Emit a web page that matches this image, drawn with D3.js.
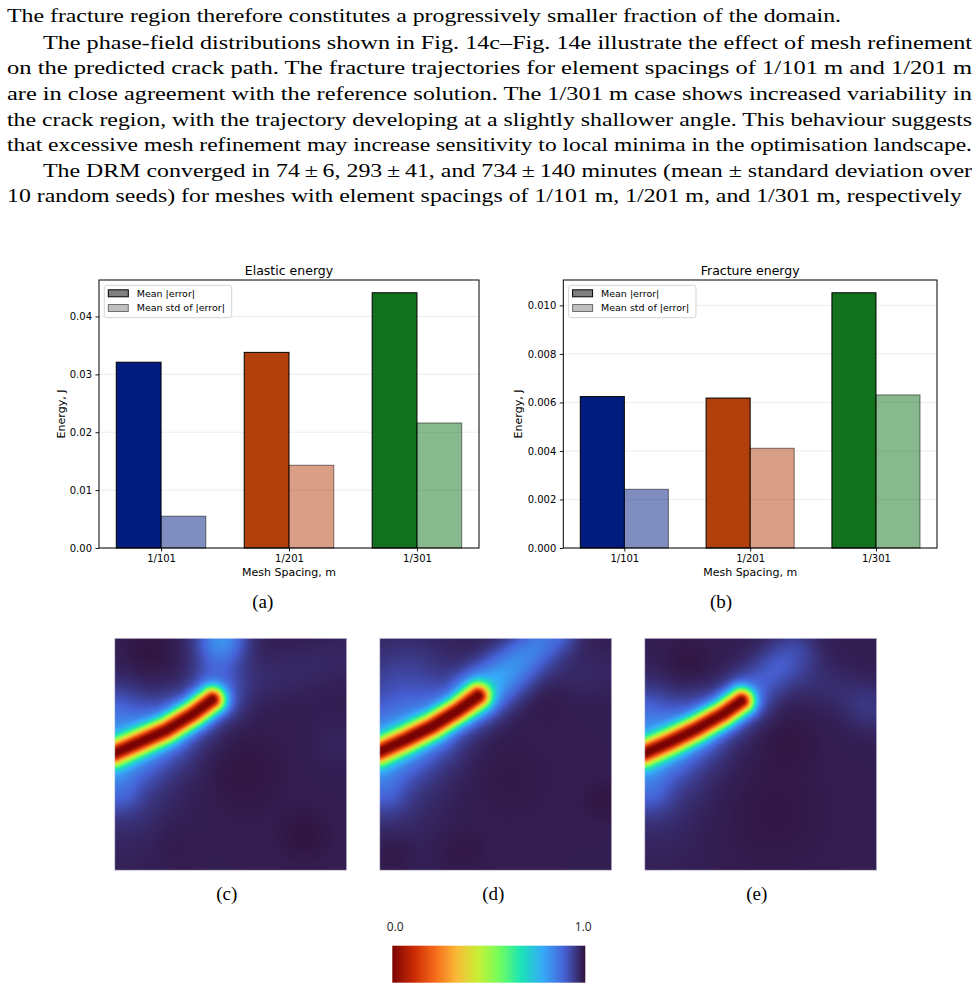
<!DOCTYPE html>
<html><head><meta charset="utf-8">
<script src="https://cdn.jsdelivr.net/npm/d3@7"></script>
<style>body{margin:0;background:#fff}svg{display:block}</style>
</head><body>
<script>
// ---------------- DATA ----------------
const paragraphLines = [
  "The fracture region therefore constitutes a progressively smaller fraction of the domain.",
  "The phase-field distributions shown in Fig. 14c\u2013Fig. 14e illustrate the effect of mesh refinement",
  "on the predicted crack path. The fracture trajectories for element spacings of 1/101 m and 1/201 m",
  "are in close agreement with the reference solution. The 1/301 m case shows increased variability in",
  "the crack region, with the trajectory developing at a slightly shallower angle. This behaviour suggests",
  "that excessive mesh refinement may increase sensitivity to local minima in the optimisation landscape.",
  "The DRM converged in 74\u2009\u00b1\u20096, 293\u2009\u00b1\u200941, and 734\u2009\u00b1\u2009140 minutes (mean \u00b1 standard deviation over",
  "10 random seeds) for meshes with element spacings of 1/101 m, 1/201 m, and 1/301 m, respectively"
];
const paragraphIndent = [false, true, false, false, false, false, true, false];

const categories = ["1/101", "1/201", "1/301"];
const seriesNames = ["Mean |error|", "Mean std of |error|"];
const elasticMean = [0.0321, 0.0338, 0.0441];
const elasticStd = [0.0055, 0.0143, 0.0216];
const fractureMean = [0.00624, 0.00618, 0.01052];
const fractureStd = [0.00242, 0.00411, 0.00631];
const elasticTicks = [0, 0.01, 0.02, 0.03, 0.04];
const fractureTicks = [0, 0.002, 0.004, 0.006, 0.008, 0.010];
const subLabels = ["(a)", "(b)", "(c)", "(d)", "(e)"];

// crack centre lines (normalised domain coords, x right, y down)
const crackC = [[0, 0.495], [0.109, 0.447], [0.224, 0.395], [0.339, 0.325], [0.42, 0.265]];
const crackD = [[0, 0.488], [0.109, 0.438], [0.224, 0.381], [0.339, 0.310], [0.423, 0.249]];
const crackE = [[0, 0.495], [0.109, 0.447], [0.224, 0.390], [0.339, 0.325], [0.417, 0.27]];
// diffuse bands [x0,y0,x1,y1,amplitude,width]
const bandsC = [[0.43, 0.25, 0.46, -0.02, 0.08, 0.11], [0.45, 0.22, 1.0, 0.08, 0.02, 0.1]];
const bandsD = [[0.43, 0.24, 0.74, -0.02, 0.2, 0.1], [0.45, 0.22, 1.0, 0.14, 0.02, 0.1]];
const bandsE = [[0.43, 0.26, 0.64, 0.06, 0.09, 0.1], [0.6, 0.12, 1.0, 0.30, 0.025, 0.1]];
// background blobs [x,y,radius,amplitude]
const blobsC = [[0.15, 0.07, 0.1, -0.012], [0.55, 0.58, 0.18, -0.01], [0.82, 0.85, 0.1, -0.012], [0.25, 0.9, 0.1, -0.006], [0.0, 0.3, 0.1, 0.04], [0.46, 0.0, 0.1, 0.12], [0.02, 0.68, 0.08, 0.03], [0.95, 0.45, 0.1, 0.008]];
const blobsD = [[0.72, 0.24, 0.1, -0.012], [0.06, 0.92, 0.09, -0.012], [0.35, 0.92, 0.1, -0.008], [0.97, 0.7, 0.08, -0.01], [0.12, 0.2, 0.2, 0.05], [0.55, 0.6, 0.2, -0.006], [0.02, 0.68, 0.08, 0.03]];
const blobsE = [[0.18, 0.12, 0.1, -0.012], [0.62, 0.44, 0.12, -0.008], [0.55, 0.75, 0.25, -0.008], [0.97, 0.3, 0.1, 0.02], [0.0, 0.3, 0.1, 0.04], [0.02, 0.68, 0.08, 0.03]];

const colorbarLabels = ["0.0", "1.0"];
const turboStops = ["#30123b", "#4662d7", "#36aaf9", "#1ae4b6", "#72fe5e", "#c8ef34", "#faba39", "#f66b19", "#cb2a04", "#7a0403"];
const barColors = ["#001c7f", "#b1400d", "#12711c"];

// ---------------- SETUP ----------------
const W = 977, H = 989;
const svg = d3.select("body").append("svg").attr("width", W).attr("height", H)
  .attr("viewBox", `0 0 ${W} ${H}`);
svg.append("rect").attr("width", W).attr("height", H).attr("fill", "#fff");

const SERIF = "'Liberation Serif', 'Times New Roman', serif";
const SANS = "'DejaVu Sans', sans-serif";

// ---------------- PARAGRAPH ----------------
const lineBase = [21.5, 48.8, 74.4, 100, 125.6, 151.2, 176.8, 202.4];
const lineEnd = [841, 972, 972, 972, 972, 972, 972, 962];
paragraphLines.forEach((s, i) => {
  const x0 = paragraphIndent[i] ? 43 : 7;
  svg.append("text").attr("x", x0).attr("y", lineBase[i])
    .attr("font-family", SERIF).attr("font-size", 19.5).attr("fill", "#000")
    .attr("textLength", lineEnd[i] - x0).attr("lengthAdjust", "spacingAndGlyphs")
    .style("white-space", "pre").text(s);
});

// ---------------- BAR CHARTS ----------------
function barChart(o) {
  const g = svg.append("g");
  const x = d3.scaleLinear().domain([-0.485, 2.485]).range([o.left, o.right]);
  const yMax = d3.max(o.means.concat(o.stds)) * 1.05;
  const y = d3.scaleLinear().domain([0, yMax]).range([o.bottom, o.top]);
  const bw = 0.35;

  g.selectAll("line.grid").data(o.ticks).join("line")
    .attr("x1", o.left).attr("x2", o.right)
    .attr("y1", d => y(d)).attr("y2", d => y(d))
    .attr("stroke", "#b0b0b0").attr("stroke-opacity", 0.3).attr("stroke-width", 0.8);

  g.selectAll("rect.mean").data(o.means).join("rect")
    .attr("x", (d, i) => x(i - bw)).attr("width", (d, i) => x(i) - x(i - bw))
    .attr("y", d => y(d)).attr("height", d => y(0) - y(d))
    .attr("fill", (d, i) => barColors[i]).attr("stroke", "#000").attr("stroke-width", 1);
  g.selectAll("rect.std").data(o.stds).join("rect")
    .attr("x", (d, i) => x(i)).attr("width", (d, i) => x(i + bw) - x(i))
    .attr("y", d => y(d)).attr("height", d => y(0) - y(d))
    .attr("fill", (d, i) => barColors[i]).attr("fill-opacity", 0.5)
    .attr("stroke", "#000").attr("stroke-opacity", 0.5).attr("stroke-width", 1);

  const ya = g.append("g").attr("transform", `translate(${o.left},0)`)
    .call(d3.axisLeft(y).tickValues(o.ticks).tickFormat(d3.format(o.fmt)).tickSize(3.5).tickPadding(3.5));
  const xa = g.append("g").attr("transform", `translate(0,${o.bottom})`)
    .call(d3.axisBottom(x).tickValues([0, 1, 2]).tickFormat(i => categories[i]).tickSize(3.5).tickPadding(3.5));
  [ya, xa].forEach(a => {
    a.select(".domain").remove();
    a.selectAll("text").attr("font-family", SANS).attr("font-size", 10).attr("fill", "#000");
    a.selectAll("line").attr("stroke", "#000").attr("stroke-width", 0.9);
  });

  g.append("rect").attr("x", o.left).attr("y", o.top)
    .attr("width", o.right - o.left).attr("height", o.bottom - o.top)
    .attr("fill", "none").attr("stroke", "#000").attr("stroke-width", 1);

  g.append("text").attr("x", (o.left + o.right) / 2).attr("y", o.top - 5)
    .attr("text-anchor", "middle").attr("font-family", SANS).attr("font-size", 12.5)
    .text(o.title);
  g.append("text").attr("x", (o.left + o.right) / 2).attr("y", o.bottom + 28)
    .attr("text-anchor", "middle").attr("font-family", SANS).attr("font-size", 11)
    .text("Mesh Spacing, m");
  g.append("text").attr("transform", `translate(${o.ylabelX},${(o.top + o.bottom) / 2}) rotate(-90)`)
    .attr("text-anchor", "middle").attr("dy", "0.35em").attr("font-family", SANS).attr("font-size", 11)
    .text("Energy, J");

  // legend
  const lg = g.append("g").attr("transform", `translate(${o.left + 5.3},${o.top + 5.3})`);
  lg.append("rect").attr("width", 127.4).attr("height", 32.4).attr("rx", 2.5)
    .attr("fill", "#fff").attr("fill-opacity", 0.8).attr("stroke", "#d0d0d0").attr("stroke-width", 0.9);
  seriesNames.forEach((nm, i) => {
    const cy = 8 + i * 14.7;
    lg.append("rect").attr("x", 4).attr("y", cy - 3.5).attr("width", 20).attr("height", 7)
      .attr("fill", "#808080").attr("fill-opacity", i ? 0.5 : 1)
      .attr("stroke", "#000").attr("stroke-opacity", i ? 0.5 : 1).attr("stroke-width", 1);
    lg.append("text").attr("x", 32.4).attr("y", cy).attr("dy", "0.35em")
      .attr("font-family", SANS).attr("font-size", 9.5).text(nm);
  });
}

barChart({ left: 99, right: 479, top: 280, bottom: 548, means: elasticMean, stds: elasticStd,
  ticks: elasticTicks, fmt: ".2f", title: "Elastic energy", ylabelX: 61 });
barChart({ left: 563.3, right: 937, top: 280, bottom: 548, means: fractureMean, stds: fractureStd,
  ticks: fractureTicks, fmt: ".3f", title: "Fracture energy", ylabelX: 518 });

svg.append("text").attr("x", 262.7).attr("y", 607.5).attr("text-anchor", "middle")
  .attr("font-family", SERIF).attr("font-size", 19).text(subLabels[0]);
svg.append("text").attr("x", 721).attr("y", 607.5).attr("text-anchor", "middle")
  .attr("font-family", SERIF).attr("font-size", 19).text(subLabels[1]);

// ---------------- PHASE FIELD PANELS ----------------
const turbo = d3.piecewise(d3.interpolateRgb, turboStops);
const phaseColor = d3.scaleSequential(t => turbo(1 - t)).domain([0, 1]);

function segDist(px, py, ax, ay, bx, by) {
  const vx = bx - ax, vy = by - ay;
  const L2 = vx * vx + vy * vy;
  let t = L2 > 0 ? ((px - ax) * vx + (py - ay) * vy) / L2 : 0;
  t = Math.max(0, Math.min(1, t));
  const dx = px - (ax + t * vx), dy = py - (ay + t * vy);
  return { d: Math.sqrt(dx * dx + dy * dy), t: t, L: Math.sqrt(L2) };
}

function phaseField(px, py, crack, bands, blobs) {
  let best = 1e9, bestS = 0, cum = 0, total = 0;
  for (let i = 1; i < crack.length; i++) total += Math.hypot(crack[i][0] - crack[i - 1][0], crack[i][1] - crack[i - 1][1]);
  for (let i = 1; i < crack.length; i++) {
    const r = segDist(px, py, crack[i - 1][0], crack[i - 1][1], crack[i][0], crack[i][1]);
    if (r.d < best) { best = r.d; bestS = (cum + r.t * r.L) / total; }
    cum += r.L;
  }
  const d = best;
  const core = Math.exp(-Math.pow(d / 0.048, 2));
  const hl = 0.035 + 0.075 * (1 - bestS);
  const halo = 0.4 * Math.exp(-d / hl);
  let rest = (1 - core) * (1 - halo);
  for (const b of bands) {
    const r = segDist(px, py, b[0], b[1], b[2], b[3]);
    const v = b[4] * (1 - 0.4 * r.t) * Math.exp(-Math.pow(r.d / b[5], 2));
    rest *= (1 - v);
  }
  let D = 1 - rest + 0.016;
  for (const bl of blobs) {
    const dd = (px - bl[0]) ** 2 + (py - bl[1]) ** 2;
    D += bl[3] * Math.exp(-dd / (bl[2] * bl[2]));
  }
  D = Math.max(0, Math.min(1, D));
  return 1 - D;
}

const panels = [
  { x: 114.7, crack: crackC, bands: bandsC, blobs: blobsC, label: subLabels[2], lx: 226.7 },
  { x: 379.7, crack: crackD, bands: bandsD, blobs: blobsD, label: subLabels[3], lx: 493.3 },
  { x: 644.7, crack: crackE, bands: bandsE, blobs: blobsE, label: subLabels[4], lx: 756.7 }
];
const side = 232, panelTop = 638.3;
const pix = d3.scaleLinear().domain([0, side]).range([0, 1]);

panels.forEach(p => {
  const cv = document.createElement("canvas");
  cv.width = side; cv.height = side;
  const ctx = cv.getContext("2d");
  const img = ctx.createImageData(side, side);
  for (let j = 0; j < side; j++) {
    for (let i = 0; i < side; i++) {
      const v = phaseField(pix(i + 0.5), pix(j + 0.5), p.crack, p.bands, p.blobs);
      const c = d3.rgb(phaseColor(v));
      const k = (j * side + i) * 4;
      img.data[k] = c.r; img.data[k + 1] = c.g; img.data[k + 2] = c.b; img.data[k + 3] = 255;
    }
  }
  ctx.putImageData(img, 0, 0);
  svg.append("image").attr("x", p.x).attr("y", panelTop).attr("width", side).attr("height", side)
    .attr("preserveAspectRatio", "none").attr("href", cv.toDataURL());
  svg.append("rect").attr("x", p.x).attr("y", panelTop).attr("width", side).attr("height", side)
    .attr("rx", 1.5).attr("fill", "none").attr("stroke", "#e4e4ee").attr("stroke-width", 0.6);
  svg.append("text").attr("x", p.lx).attr("y", 899.5).attr("text-anchor", "middle")
    .attr("font-family", SERIF).attr("font-size", 19).text(p.label);
});

// ---------------- COLORBAR ----------------
const cbx = d3.scaleLinear().domain([0, 1]).range([392.3, 585.3]);
const grad = svg.append("defs").append("linearGradient").attr("id", "cbgrad")
  .attr("x1", "0%").attr("x2", "100%").attr("y1", "0%").attr("y2", "0%");
d3.range(0, 1.0001, 0.02).forEach(t => {
  grad.append("stop").attr("offset", (t * 100) + "%").attr("stop-color", phaseColor(t));
});
svg.append("rect").attr("x", cbx(0)).attr("y", 945.7).attr("width", cbx(1) - cbx(0)).attr("height", 37)
  .attr("fill", "url(#cbgrad)");
svg.selectAll("text.cbl").data([0, 1]).join("text")
  .attr("x", d => cbx(d) + (d ? -2 : 3)).attr("y", 931)
  .attr("text-anchor", "middle").attr("font-family", "'Open Sans', sans-serif").attr("font-size", 12)
  .attr("fill", "#222").text((d, i) => colorbarLabels[i]);
</script>
</body></html>
